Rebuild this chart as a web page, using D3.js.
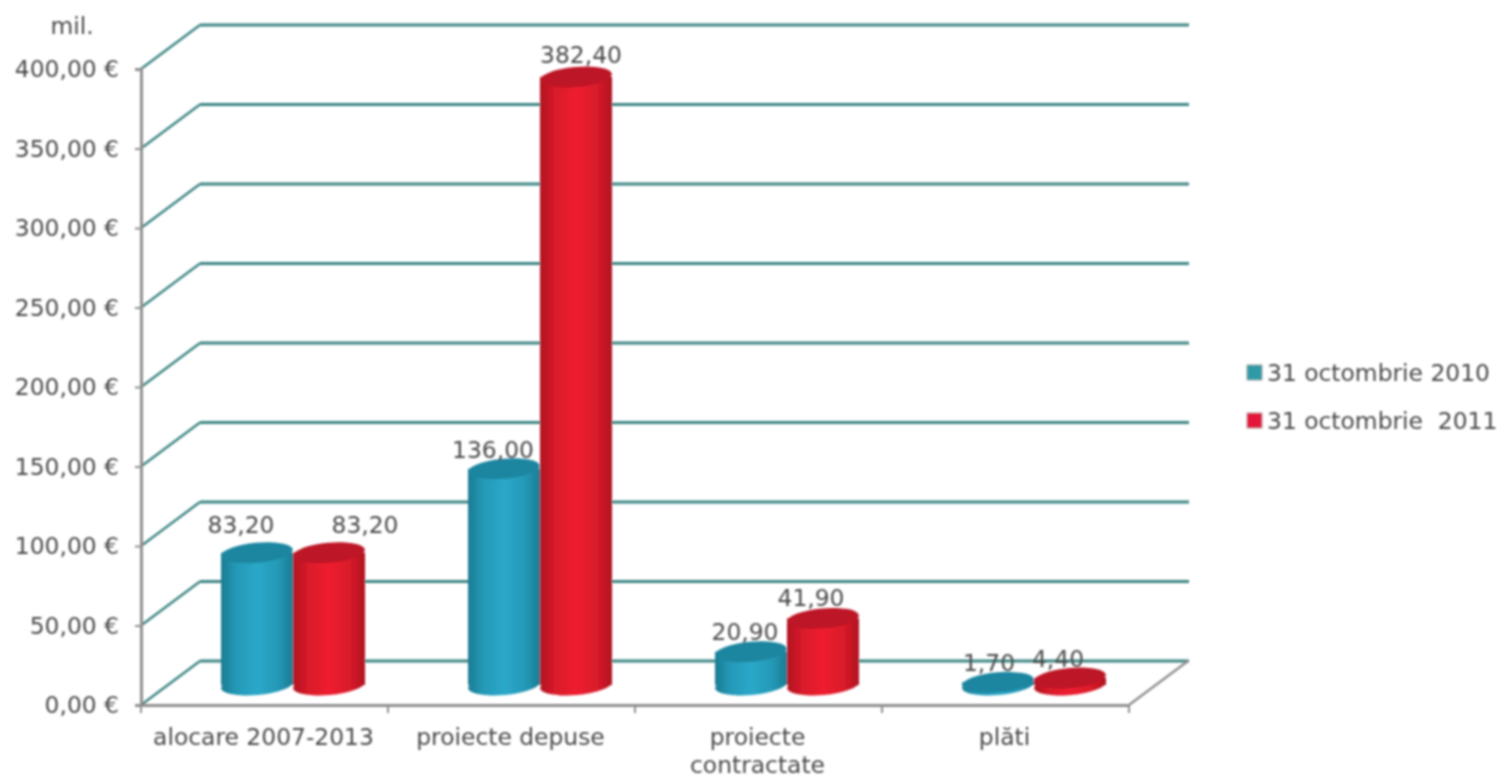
<!DOCTYPE html>
<html><head><meta charset="utf-8">
<script src="https://cdn.jsdelivr.net/npm/d3@7/dist/d3.min.js"></script>
<style>html,body{margin:0;background:#fff}svg{display:block}text{font-family:"DejaVu Sans",sans-serif;fill:#4a4a4a}</style>
</head><body><script>
const categories = ["alocare 2007-2013","proiecte depuse","proiecte contractate","plăti"];
const seriesNames = ["31 octombrie 2010","31 octombrie  2011"];
const values2010 = [83.2,136.0,20.9,1.7];
const values2011 = [83.2,382.4,41.9,4.4];
const yTicks = [0,50,100,150,200,250,300,350,400];
const labelNudgeX2010 = [-16,-11,-6,-9];
const labelNudgeX2011 = [36,5,-12,-12];
const labelRise2010 = [20,11,12,11];
const labelRise2011 = [20,14,12,11];
const W=1497,H=779,fs=23.4;
const fmt=v=>d3.format(".2f")(v).replace(".",",");
const svg=d3.select("body").append("svg").attr("width",W).attr("height",H);
const defs=svg.append("defs");
defs.append("filter").attr("id","soft").attr("x","-2%").attr("y","-2%").attr("width","104%").attr("height","104%")
  .append("feGaussianBlur").attr("stdDeviation",0.8);
const pal=[{edge:"#1a7c92",mid:"#2498b6",top:"#1f86a0",light:"#2ba8c9",leg:"#2f9aa6"},
           {edge:"#ae1120",mid:"#d81a2a",top:"#bd1528",light:"#ee1d2f",leg:"#e5173a"}];
pal.forEach((p,i)=>{
  const g=defs.append("linearGradient").attr("id","body"+i);
  [[0,p.edge],[.2,p.mid],[.5,p.light],[.8,p.mid],[1,p.edge]].forEach(s=>g.append("stop").attr("offset",s[0]).attr("stop-color",s[1]));
});
const root=svg.append("g").attr("filter","url(#soft)");
const x=d3.scaleBand().domain(categories).range([141,1129]);
const y=d3.scaleLinear().domain([0,400]).range([705,69]);
const depthX=59,depthY=44;
const teal="#3d8583",gray="#8f8f8f";
yTicks.forEach(t=>{
  root.append("line").attr("x1",x.range()[0]+depthX).attr("x2",x.range()[1]+depthX+1).attr("y1",y(t)-depthY).attr("y2",y(t)-depthY).attr("stroke",teal).attr("stroke-width",2.8);
  root.append("line").attr("x1",x.range()[0]).attr("x2",x.range()[0]+depthX).attr("y1",y(t)).attr("y2",y(t)-depthY).attr("stroke",teal).attr("stroke-width",2.4);
});
root.append("line").attr("x1",1129).attr("y1",705).attr("x2",1129+depthX).attr("y2",705-depthY).attr("stroke",gray).attr("stroke-width",2.4);
const yAxis=d3.axisLeft(y).tickValues(yTicks).tickSize(6).tickPadding(16).tickFormat(v=>fmt(v)+" €");
const ya=root.append("g").attr("transform","translate(141,0)").call(yAxis);
const xAxis=d3.axisBottom(x).tickSize(0).tickFormat("");
const xa=root.append("g").attr("transform","translate(0,705)").call(xAxis);
root.selectAll(".domain").attr("stroke",gray).attr("stroke-width",3);
ya.selectAll("line").attr("stroke",gray).attr("stroke-width",2);
ya.selectAll("text").attr("font-size",fs).style("font-family",'"DejaVu Sans",sans-serif').style("fill","#4a4a4a");
[...x.domain().map(d=>x(d)),x.range()[1]].forEach(v=>root.append("line").attr("x1",v).attr("x2",v).attr("y1",705).attr("y2",713).attr("stroke",gray).attr("stroke-width",2));
root.append("text").attr("x",72).attr("y",34).attr("text-anchor","middle").attr("font-size",fs).text("mil.");
categories.forEach(c=>{
  const words=c==="proiecte contractate"?["proiecte","contractate"]:[c];
  words.forEach((w,i)=>root.append("text").attr("x",x(c)+x.bandwidth()/2-1).attr("y",745+i*28).attr("text-anchor","middle").attr("font-size",fs).text(w));
});
const inner=d3.scaleBand().domain([0,1]).range([0,144]);
const barOffX=depthX/2+(x.bandwidth()-144)/2-1,baseOffY=20,ry=10;
const rows=[values2010,values2011],nudgesX=[labelNudgeX2010,labelNudgeX2011],rises=[labelRise2010,labelRise2011];
categories.forEach((c,ci)=>{
  rows.forEach((vals,si)=>{
    const v=vals[ci],p=pal[si];
    const cx=x(c)+barOffX+inner(si)+inner.bandwidth()/2;
    const rx=inner.bandwidth()/2;
    const yBase=y(0)-baseOffY,yTop=y(v)-baseOffY;
    const g=root.append("g");
    g.append("ellipse").attr("cx",cx).attr("cy",yBase).attr("rx",rx).attr("ry",ry).attr("fill","url(#body"+si+")").attr("transform",`rotate(-5 ${cx} ${yBase})`);
    g.append("rect").attr("x",cx-rx).attr("y",yTop).attr("width",rx*2).attr("height",yBase-yTop).attr("fill","url(#body"+si+")");
    g.append("ellipse").attr("cx",cx).attr("cy",yTop).attr("rx",rx).attr("ry",ry).attr("fill",p.top).attr("transform",`rotate(-5 ${cx} ${yTop})`);
    root.append("text").attr("data-lab",1).attr("x",cx+nudgesX[si][ci]).attr("y",yTop-rises[si][ci]).attr("text-anchor","middle").attr("font-size",fs).text(fmt(v));
  });
});
root.selectAll("text[data-lab]").raise();
seriesNames.forEach((s,i)=>{
  const ly=373+i*48;
  root.append("rect").attr("x",1247).attr("y",ly-8).attr("width",15).attr("height",15).attr("fill",pal[i].leg).attr("stroke","#999").attr("stroke-width",.8);
  root.append("text").attr("x",1267).attr("y",ly+8).attr("font-size",fs).style("white-space","pre").text(s);
});
</script></body></html>
